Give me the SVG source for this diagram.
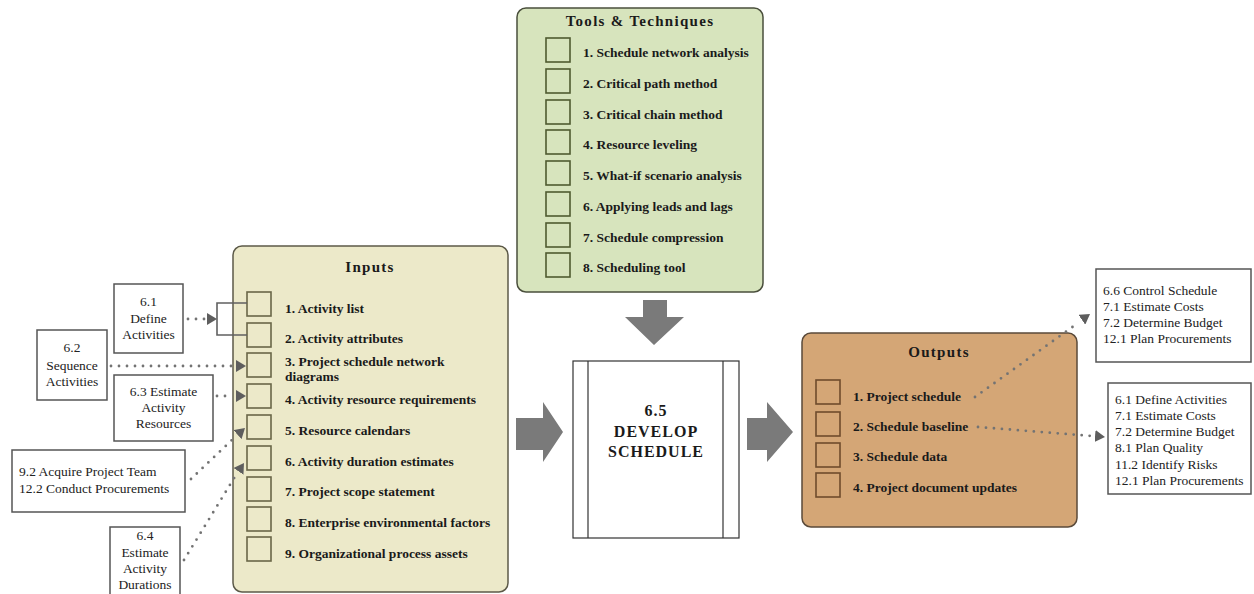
<svg xmlns="http://www.w3.org/2000/svg" width="1254" height="594" viewBox="0 0 1254 594">
<style>
.bg{fill:#ffffff}
.title{font-family:"Liberation Serif",serif;font-weight:bold;font-size:15px;letter-spacing:1.3px;fill:#1a1a1a;text-anchor:middle}
.item{font-family:"Liberation Serif",serif;font-weight:bold;font-size:13.5px;fill:#1a1a1a}
.ref{font-family:"Liberation Serif",serif;font-size:13.5px;fill:#222}
.refc{font-family:"Liberation Serif",serif;font-size:13.5px;fill:#222;text-anchor:middle}
.box{fill:#ffffff;stroke:#555;stroke-width:1.5}
.tools{fill:#d7e4bd;stroke:#4a4f3c;stroke-width:1.5}
.inputs{fill:#ece9c9;stroke:#5c5a48;stroke-width:1.5}
.outputs{fill:#d4a676;stroke:#5a4a3a;stroke-width:1.5}
.sqT{fill:none;stroke:#4f5a30;stroke-width:1.6}
.sqI{fill:none;stroke:#6a6648;stroke-width:1.6}
.sqO{fill:none;stroke:#6e4b2c;stroke-width:1.6}
.dot{fill:none;stroke:#737373;stroke-width:2.8;stroke-linecap:round;stroke-dasharray:0 8}
.solid{fill:none;stroke:#606060;stroke-width:1.6}
.big{fill:#7a7a7a}
.proc{fill:#ffffff;stroke:#333;stroke-width:1.2}
.ptxt{font-family:"Liberation Serif",serif;font-weight:bold;font-size:16px;fill:#1a1a1a;text-anchor:middle;letter-spacing:1px}
</style>
<defs>
<marker id="ah" viewBox="0 0 10 12" refX="10" refY="6" markerWidth="10" markerHeight="12" markerUnits="userSpaceOnUse" orient="auto">
<path d="M0,0 L10,6 L0,12 z" fill="#5e5e5e"/>
</marker>
</defs>
<rect class="bg" x="0" y="0" width="1254" height="594"/>

<g id="tools">
<rect class="tools" x="517" y="8" width="246" height="284" rx="9"/>
<text class="title" x="640" y="26">Tools &amp; Techniques</text>
<rect class="sqT" x="546" y="38" width="24" height="24"/>
<rect class="sqT" x="546" y="69" width="24" height="24"/>
<rect class="sqT" x="546" y="100" width="24" height="24"/>
<rect class="sqT" x="546" y="130" width="24" height="24"/>
<rect class="sqT" x="546" y="161" width="24" height="24"/>
<rect class="sqT" x="546" y="192" width="24" height="24"/>
<rect class="sqT" x="546" y="223" width="24" height="24"/>
<rect class="sqT" x="546" y="253" width="24" height="24"/>
<text class="item" x="583" y="57">1. Schedule network analysis</text>
<text class="item" x="583" y="88">2. Critical path method</text>
<text class="item" x="583" y="119">3. Critical chain method</text>
<text class="item" x="583" y="149">4. Resource leveling</text>
<text class="item" x="583" y="180">5. What-if scenario analysis</text>
<text class="item" x="583" y="211">6. Applying leads and lags</text>
<text class="item" x="583" y="242">7. Schedule compression</text>
<text class="item" x="583" y="272">8. Scheduling tool</text>
</g>

<g id="inputs">
<rect class="inputs" x="233" y="246" width="275" height="346" rx="9"/>
<text class="title" x="370" y="272">Inputs</text>
<rect class="sqI" x="247" y="292" width="24" height="24"/>
<rect class="sqI" x="247" y="323" width="24" height="24"/>
<rect class="sqI" x="247" y="353" width="24" height="24"/>
<rect class="sqI" x="247" y="384" width="24" height="24"/>
<rect class="sqI" x="247" y="415" width="24" height="24"/>
<rect class="sqI" x="247" y="446" width="24" height="24"/>
<rect class="sqI" x="247" y="477" width="24" height="24"/>
<rect class="sqI" x="247" y="507" width="24" height="24"/>
<rect class="sqI" x="247" y="537" width="24" height="24"/>
<text class="item" x="285" y="313">1. Activity list</text>
<text class="item" x="285" y="343">2. Activity attributes</text>
<text class="item" x="285" y="366">3. Project schedule network</text>
<text class="item" x="285" y="381">diagrams</text>
<text class="item" x="285" y="404">4. Activity resource requirements</text>
<text class="item" x="285" y="435">5. Resource calendars</text>
<text class="item" x="285" y="466">6. Activity duration estimates</text>
<text class="item" x="285" y="496">7. Project scope statement</text>
<text class="item" x="285" y="527">8. Enterprise environmental factors</text>
<text class="item" x="285" y="558">9. Organizational process assets</text>
</g>

<g id="outputs">
<rect class="outputs" x="802" y="333" width="275" height="194" rx="9"/>
<text class="title" x="939" y="357">Outputs</text>
<rect class="sqO" x="816" y="380" width="24" height="24"/>
<rect class="sqO" x="816" y="412" width="24" height="24"/>
<rect class="sqO" x="816" y="443" width="24" height="24"/>
<rect class="sqO" x="816" y="473" width="24" height="24"/>
<text class="item" x="853" y="401">1. Project schedule</text>
<text class="item" x="853" y="431">2. Schedule baseline</text>
<text class="item" x="853" y="461">3. Schedule data</text>
<text class="item" x="853" y="492">4. Project document updates</text>
</g>

<g id="process">
<rect class="proc" x="573" y="361" width="166" height="177"/>
<line class="proc" x1="588" y1="361" x2="588" y2="538"/>
<line class="proc" x1="723" y1="361" x2="723" y2="538"/>
<text class="ptxt" x="656" y="416">6.5</text>
<text class="ptxt" x="656" y="437">DEVELOP</text>
<text class="ptxt" x="656" y="457">SCHEDULE</text>
</g>

<g id="n61">
<rect class="box" x="114" y="284" width="69" height="69"/>
<text class="refc" x="148.5" y="306">6.1</text>
<text class="refc" x="148.5" y="323">Define</text>
<text class="refc" x="148.5" y="339">Activities</text>
</g>
<g id="n62">
<rect class="box" x="37" y="330" width="70" height="70"/>
<text class="refc" x="72" y="352">6.2</text>
<text class="refc" x="72" y="370">Sequence</text>
<text class="refc" x="72" y="386">Activities</text>
</g>
<g id="n63">
<rect class="box" x="114" y="375" width="99" height="66"/>
<text class="refc" x="163.5" y="396">6.3 Estimate</text>
<text class="refc" x="163.5" y="412">Activity</text>
<text class="refc" x="163.5" y="428">Resources</text>
</g>
<g id="n92">
<rect class="box" x="12" y="450" width="173" height="62"/>
<text class="ref" x="19" y="476">9.2 Acquire Project Team</text>
<text class="ref" x="19" y="493">12.2 Conduct Procurements</text>
</g>
<g id="n64">
<rect class="box" x="110" y="527" width="70" height="80"/>
<text class="refc" x="145" y="540">6.4</text>
<text class="refc" x="145" y="557">Estimate</text>
<text class="refc" x="145" y="573">Activity</text>
<text class="refc" x="145" y="589">Durations</text>
</g>
<g id="outA">
<rect class="box" x="1096" y="269" width="155" height="93"/>
<text class="ref" x="1103" y="295">6.6 Control Schedule</text>
<text class="ref" x="1103" y="311">7.1 Estimate Costs</text>
<text class="ref" x="1103" y="327">7.2 Determine Budget</text>
<text class="ref" x="1103" y="343">12.1 Plan Procurements</text>
</g>
<g id="outB">
<rect class="box" x="1108" y="383" width="143" height="111"/>
<text class="ref" x="1115" y="404">6.1 Define Activities</text>
<text class="ref" x="1115" y="420">7.1 Estimate Costs</text>
<text class="ref" x="1115" y="436">7.2 Determine Budget</text>
<text class="ref" x="1115" y="452">8.1 Plan Quality</text>
<text class="ref" x="1115" y="469">11.2 Identify Risks</text>
<text class="ref" x="1115" y="485">12.1 Plan Procurements</text>
</g>

<g id="connectors">
<path class="big" d="M643,300 H667 V317 H684 L654,345 L625,317 H643 Z"/>
<path class="big" d="M516,418 H543 V402 L563,432 L543,462 V450 H516 Z"/>
<path class="big" d="M747,418 H767 V402 L793,432 L767,462 V450 H747 Z"/>
<path class="solid" d="M247,303 H217 V335 H247"/>
<line class="dot" x1="188" y1="319" x2="205" y2="319"/>
<line x1="207" y1="319" x2="217" y2="319" stroke="none" marker-end="url(#ah)"/>
<line class="dot" x1="111" y1="366" x2="234" y2="366"/>
<line x1="236" y1="366" x2="246" y2="366" stroke="none" marker-end="url(#ah)"/>
<line class="dot" x1="217" y1="396" x2="233" y2="396"/>
<line x1="236" y1="396" x2="246" y2="396" stroke="none" marker-end="url(#ah)"/>
<line class="dot" x1="191" y1="479" x2="234" y2="438"/>
<line x1="236" y1="436" x2="245" y2="428" stroke="none" marker-end="url(#ah)"/>
<line class="dot" x1="184" y1="560" x2="236" y2="475"/>
<line x1="238" y1="472" x2="244" y2="463" stroke="none" marker-end="url(#ah)"/>
<line class="dot" x1="975" y1="397" x2="1078" y2="323"/>
<line x1="1080" y1="321" x2="1090" y2="314" stroke="none" marker-end="url(#ah)"/>
<line class="dot" x1="978" y1="427" x2="1092" y2="436"/>
<line x1="1094" y1="436" x2="1105" y2="437" stroke="none" marker-end="url(#ah)"/>
</g>
</svg>
